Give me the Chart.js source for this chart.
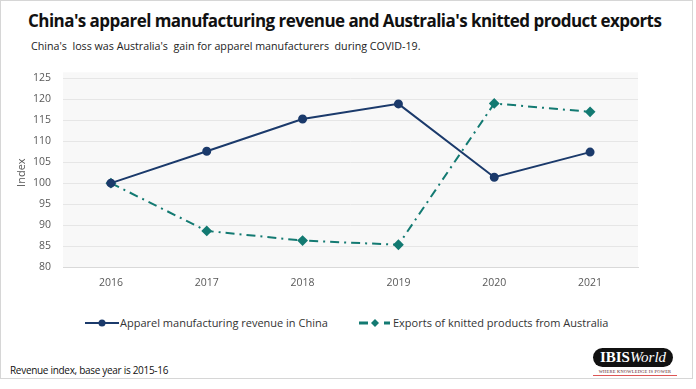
<!DOCTYPE html>
<html>
<head>
<meta charset="utf-8">
<script src="https://cdn.jsdelivr.net/npm/chart.js@4.4.0/dist/chart.umd.min.js"></script>
<style>
  body { margin: 0; background: #fff; font-family: "Open Sans", sans-serif; }
  #wrap { position: relative; width: 691px; height: 377px; border: 1px solid #d6d6d6; overflow: hidden; }
  #title { position: absolute; left: 27px; top: 8px; font-size: 17px; font-weight: bold; color: #111; letter-spacing: -0.55px; white-space: nowrap; }
  #subtitle { position: absolute; left: 30px; top: 38px; font-size: 10.7px; color: #222; white-space: nowrap; }
  #chartBox { position: absolute; left: -1px; top: 59px; width: 696px; height: 240px; }
  #legend { position: absolute; top: 314px; left: 0; width: 691px; font-size: 11px; color: #333; }
  .item { position: absolute; display: flex; align-items: center; white-space: nowrap; }
  #footer { position: absolute; left: 9px; top: 362px; font-size: 10px; color: #111; letter-spacing: -0.3px; }
  #logo { position: absolute; left: 592px; top: 347px; width: 84px; text-align: center; }
  #logo .pill { background: #111; color: #fff; border-radius: 10px; height: 19px; line-height: 19px; width: 80px; font-family: "Liberation Serif", serif; font-size: 15px; font-weight: bold; }
  #logo .pill i { font-weight: normal; }
  #logo .tag { font-family: "Liberation Serif", serif; font-size: 4.5px; color: #5a1a1a; margin-top: 2px; letter-spacing: 0.2px; border-bottom: 1px solid #d55; width: 84px; line-height: 6px; }
</style>
</head>
<body>
<div id="wrap">
  <div id="title">China's apparel manufacturing revenue and Australia's knitted product exports</div>
  <div id="subtitle">China's&nbsp; loss was Australia's&nbsp; gain for apparel manufacturers&nbsp; during COVID-19.</div>
  <div id="chartBox"><canvas id="chart"></canvas></div>
  <div id="legend"></div>
  <div id="footer">Revenue index, base year is 2015-16</div>
  <div id="logo"><div class="pill">IBIS<i>World</i></div><div class="tag">WHERE KNOWLEDGE IS POWER</div></div>
</div>
<script>
const years = ['2016', '2017', '2018', '2019', '2020', '2021'];
const chinaRevenue = [100, 107.6, 115.3, 118.9, 101.4, 107.4];
const australiaExports = [100, 88.6, 86.3, 85.3, 119.0, 117.0];
const yTicks = [80, 85, 90, 95, 100, 105, 110, 115, 120, 125];

const navy = '#1b3a6b';
const teal = '#137a72';

// light grey plot background
const plotBg = {
    id: 'plotBg',
    beforeDraw(chart) {
        const a = chart.chartArea;
        const c = chart.ctx;
        c.save();
        c.fillStyle = '#f8f8f8';
        c.fillRect(a.left, a.top - 6, a.right - a.left, a.bottom - a.top + 6);
        c.restore();
    }
};

const ctx = document.getElementById('chart').getContext('2d');
const chart = new Chart(ctx, {
    type: 'line',
    data: {
        labels: years,
        datasets: [{
            label: 'Apparel manufacturing revenue in China',
            data: chinaRevenue,
            borderColor: navy,
            backgroundColor: navy,
            borderWidth: 2,
            pointStyle: 'circle',
            pointRadius: 3.5,
            tension: 0
        }, {
            label: 'Exports of knitted products from Australia',
            data: australiaExports,
            borderColor: teal,
            backgroundColor: teal,
            borderWidth: 2,
            borderDash: [9, 5, 2, 5],
            pointStyle: 'rectRot',
            pointRadius: 4,
            tension: 0
        }]
    },
    options: {
        responsive: true,
        maintainAspectRatio: false,
        animation: false,
        layout: { padding: { top: 15, right: 58, bottom: 0, left: 0 } },
        plugins: { legend: { display: false }, tooltip: { enabled: false } },
        scales: {
            x: {
                offset: true,
                grid: { display: false, drawTicks: false },
                border: { color: '#d9d9d9', width: 1 },
                ticks: { color: '#595959', font: { family: 'Open Sans', size: 10.5 }, padding: 10 },
                afterFit(s) { s.height = 33; }
            },
            y: {
                min: 80, max: 125,
                afterBuildTicks(s) { s.ticks = yTicks.map(v => ({ value: v })); },
                grid: { color: '#e6e6e6', drawTicks: false },
                border: { display: false },
                ticks: { color: '#595959', font: { family: 'Open Sans', size: 10.5 }, padding: 12 },
                title: { display: true, text: 'Index', color: '#595959', font: { family: 'Open Sans', size: 11 }, padding: { top: 15, bottom: 0 } },
                afterFit(s) { s.width = 63; }
            }
        }
    },
    plugins: [plotBg]
});

// legend with line + marker like the original
const legend = document.getElementById('legend');
const lefts = [84, 357];
chart.data.datasets.forEach((ds, i) => {
    const item = document.createElement('div');
    item.className = 'item';
    item.style.left = lefts[i] + 'px';
    const c = document.createElement('canvas');
    c.width = 34; c.height = 14;
    c.style.marginRight = '1px';
    const g = c.getContext('2d');
    g.strokeStyle = ds.borderColor;
    g.fillStyle = ds.borderColor;
    g.lineWidth = 2;
    if (i === 1) {
        g.lineWidth = 3;
        g.beginPath(); g.moveTo(1, 7); g.lineTo(10, 7); g.moveTo(26, 7); g.lineTo(32, 7); g.stroke();
        g.beginPath(); g.moveTo(17, 3); g.lineTo(21, 7); g.lineTo(17, 11); g.lineTo(13, 7); g.closePath(); g.fill();
    } else {
        g.beginPath(); g.moveTo(0, 7); g.lineTo(34, 7); g.stroke();
        g.beginPath(); g.arc(17, 7, 3.5, 0, Math.PI * 2); g.fill();
    }
    item.appendChild(c);
    const t = document.createElement('span');
    t.textContent = ds.label;
    item.appendChild(t);
    legend.appendChild(item);
});
</script>
</body>
</html>
